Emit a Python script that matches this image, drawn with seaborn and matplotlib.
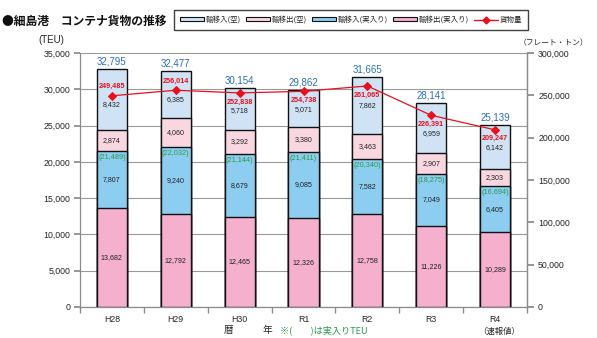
import numpy as np
import pandas as pd
import matplotlib
matplotlib.use("Agg")
import matplotlib.pyplot as plt
import seaborn as sns
from matplotlib.patches import Patch
from matplotlib.lines import Line2D
from matplotlib.ticker import FuncFormatter, FixedLocator

sns.set_theme(style="white")
JP = ['Noto Sans CJK JP', 'DejaVu Sans']
NUM = ['Liberation Sans', 'DejaVu Sans']
plt.rcParams['font.family'] = JP

years = ["H28", "H29", "H30", "R1", "R2", "R3", "R4"]
empty_import = [8432, 6385, 5718, 5071, 7862, 6959, 6142]     # 輸移入(空)
empty_export = [2874, 4060, 3292, 3380, 3463, 2907, 2303]     # 輸移出(空)
loaded_import = [7807, 9240, 8679, 9085, 7582, 7049, 6405]    # 輸移入(実入り)
loaded_export = [13682, 12792, 12465, 12326, 12758, 11226, 10289]  # 輸移出(実入り)
totals = [32795, 32477, 30154, 29862, 31665, 28141, 25139]
loaded_totals = [21489, 22032, 21144, 21411, 20340, 18275, 16694]
cargo = [249485, 256014, 252838, 254738, 261065, 226391, 209247]  # 貨物量 (フレート・トン)

c_ei = "#cfe3f5"
c_ee = "#f8d7e1"
c_li = "#8dcdef"
c_le = "#f4b0cd"
c_line = "#e8101e"

YL, YR = 35000, 300000

df = pd.DataFrame({"year": years, "le": loaded_export, "li": loaded_import,
                   "ee": empty_export, "ei": empty_import})
df["c1"] = df["le"]
df["c2"] = df["c1"] + df["li"]
df["c3"] = df["c2"] + df["ee"]
df["c4"] = df["c3"] + df["ei"]

fig = plt.figure(figsize=(5.97, 3.38), dpi=100)
ax_h_px = 307 - 53
ax = fig.add_axes([80/597, 1-307/338, (527-80)/597, ax_h_px/338])
px = YL / ax_h_px  # data units per pixel on left axis

bw = 0.47
for col, color in [("c4", c_ei), ("c3", c_ee), ("c2", c_li), ("c1", c_le)]:
    sns.barplot(data=df, x="year", y=col, color=color, width=bw, ax=ax,
                edgecolor="#111111", linewidth=1.0, saturation=1, zorder=3)

ax.set_ylim(0, YL)
ax.set_xlim(-0.5, 6.5)
ax.set_yticks(np.arange(0, YL + 1, 5000))
ax.yaxis.set_major_formatter(FuncFormatter(lambda v, p: f"{int(v):,}"))
ax.grid(axis="y", color="#9a9a9a", linewidth=0.8, zorder=0)
ax.set_axisbelow(True)
ax.set_xlabel("")
ax.set_ylabel("")
ax.spines["top"].set_visible(False)
for s in ["left", "right", "bottom"]:
    ax.spines[s].set_color("#8a8a8a")
    ax.spines[s].set_linewidth(0.9)
ax.tick_params(axis="y", left=True, length=4, color="#8a8a8a", labelsize=6.3, pad=3)
ax.tick_params(axis="x", length=0, labelsize=6.3, pad=6)
for lab in ax.get_yticklabels() + ax.get_xticklabels():
    lab.set_family(NUM)
ax.xaxis.set_minor_locator(FixedLocator(np.arange(-0.5, 7, 1.0)))
ax.tick_params(axis="x", which="minor", bottom=True, length=4, color="#8a8a8a", direction="out")

# labels
for i in range(len(years)):
    c1, c2, c3, c4 = df.loc[i, ["c1", "c2", "c3", "c4"]]
    ax.text(i, c1 / 2, f"{loaded_export[i]:,}", ha="center", va="center", fontsize=5.1,
            family=NUM, color="#222222", zorder=5)
    ax.text(i, (c1 + c2) / 2, f"{loaded_import[i]:,}", ha="center", va="center", fontsize=5.1,
            family=NUM, color="#222222", zorder=5)
    ax.text(i, c2 - 900, f"({loaded_totals[i]:,})", ha="center", va="center", fontsize=5.3,
            family=NUM, color="#2a9a4a", zorder=5)
    ax.text(i, (c2 + c3) / 2, f"{empty_export[i]:,}", ha="center", va="center", fontsize=5.1,
            family=NUM, color="#222222", zorder=5)
    # keep the empty-import label clear of the red cargo label
    point_left = cargo[i] * YL / YR
    anchor = point_left if i < 2 else point_left - 9 * px
    mid = min((c3 + c4) / 2, anchor - 9 * px)
    ax.text(i, mid, f"{empty_import[i]:,}", ha="center", va="center", fontsize=5.1,
            family=NUM, color="#222222", zorder=5)
    ax.text(i, totals[i] + 350, f"{totals[i]:,}", ha="center", va="bottom", fontsize=7,
            family=NUM, color="#2a6fbf", zorder=5)

# right axis
ax2 = ax.twinx()
ax2.set_position(ax.get_position())
sns.lineplot(x=np.arange(len(years)), y=cargo, ax=ax2, color=c_line, linewidth=0.9,
             marker="D", markersize=4.5, markeredgecolor=c_line, zorder=6)
ax2.set_ylim(0, YR)
ax2.set_yticks(np.arange(0, YR + 1, 50000))
ax2.yaxis.set_major_formatter(FuncFormatter(lambda v, p: f"{int(v):,}"))
ax2.tick_params(axis="y", right=True, length=5, color="#8a8a8a", labelsize=6.3, pad=3)
for lab in ax2.get_yticklabels():
    lab.set_family(NUM)
for s in ["top", "left", "bottom"]:
    ax2.spines[s].set_visible(False)
ax2.spines["right"].set_color("#8a8a8a")
ax2.spines["right"].set_linewidth(0.9)
ax2.grid(False)
ax2.set_ylabel("")
pxr = YR / ax_h_px
for i, v in enumerate(cargo):
    off = 9 * pxr
    yy = v + off if i < 2 else v - off
    ax2.text(i, yy, f"{v:,}", ha="center", va="center", fontsize=5.2,
             family=NUM, color=c_line, fontweight="bold", zorder=7)

# titles and annotations
fig.text(2/597, 1-21/338, "●細島港　コンテナ貨物の推移", fontsize=8.5, fontweight="bold",
         family=JP, va="center", ha="left", color="#111111")
fig.text(51/597, 1-40/338, "(TEU)", fontsize=7, family=NUM, ha="center", va="center")
fig.text(553/597, 1-43/338, "（フレート・トン）", fontsize=5.6, family=JP, ha="center", va="center")
fig.text(248/597, 1-330/338, "暦　　　年", fontsize=7, family=JP, ha="center", va="center")
fig.text(280/597, 1-330/338, "※(　　)は実入りTEU", fontsize=6.6, family=JP, ha="left", va="center",
         color="#2a9a4a")
fig.text(499/597, 1-331/338, "（速報値）", fontsize=6, family=JP, ha="center", va="center")

handles = [
    Patch(facecolor=c_ei, edgecolor="#111111", linewidth=0.8, label="輸移入(空)"),
    Patch(facecolor=c_ee, edgecolor="#111111", linewidth=0.8, label="輸移出(空)"),
    Patch(facecolor=c_li, edgecolor="#111111", linewidth=0.8, label="輸移入(実入り)"),
    Patch(facecolor=c_le, edgecolor="#111111", linewidth=0.8, label="輸移出(実入り)"),
    Line2D([0], [0], color=c_line, marker="D", markersize=3.5, linewidth=1.0, label="貨物量"),
]
leg = fig.legend(handles=handles, loc="center", bbox_to_anchor=(351/597, 1-20/338), ncol=5,
                 fontsize=5.4, frameon=True, fancybox=False, edgecolor="#111111",
                 handlelength=3.2, handleheight=0.45, handletextpad=0.2, columnspacing=0.7,
                 borderpad=0.75)
leg.get_frame().set_linewidth(1.0)

fig.savefig("out.png", dpi=100)
